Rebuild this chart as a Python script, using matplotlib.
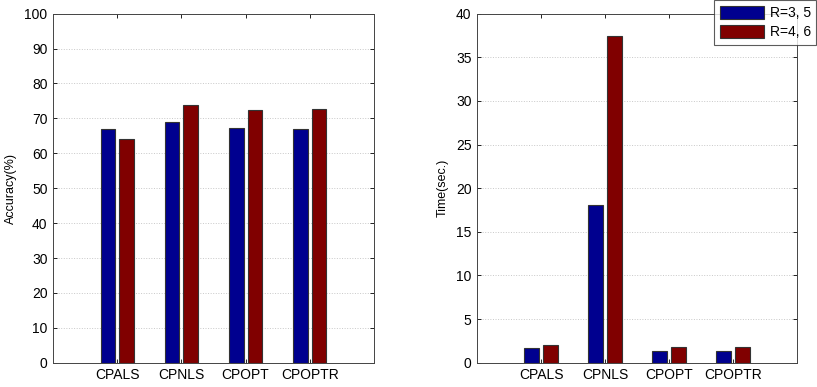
import numpy as np
import matplotlib
matplotlib.use("Agg")
import matplotlib.pyplot as plt

plt.rcParams['font.family'] = ['Liberation Sans', 'DejaVu Sans']

methods = ['CPALS', 'CPNLS', 'CPOPT', 'CPOPTR']
series = ['R=3, 5', 'R=4, 6']
accuracy_r35 = [67.0, 68.9, 67.3, 67.0]
accuracy_r46 = [64.2, 73.8, 72.5, 72.8]
time_r35 = [1.72, 18.1, 1.34, 1.34]
time_r46 = [1.99, 37.5, 1.76, 1.76]

colors = ['#00008f', '#800000']


def draw_bars(ax, a, b, ylim, yticks, ylabel):
    x = np.arange(1, len(methods) + 1)
    w = 0.23
    ax.bar(x - 0.145, a, w, color=colors[0], edgecolor='#333333',
           linewidth=0.8, label=series[0], zorder=3)
    ax.bar(x + 0.145, b, w, color=colors[1], edgecolor='#333333',
           linewidth=0.8, label=series[1], zorder=3)
    ax.set_xlim(0, 5)
    ax.set_ylim(*ylim)
    ax.set_xticks(x)
    ax.set_xticklabels(methods)
    ax.set_yticks(yticks)
    ax.set_ylabel(ylabel, fontsize=9, labelpad=5)
    ax.tick_params(direction='in', top=True, right=True, length=3,
                   labelsize=10, width=0.6, pad=4)
    ax.grid(axis='y', linestyle=':', color='#c8c8c8', linewidth=0.7,
            zorder=0)
    for s in ax.spines.values():
        s.set_linewidth(0.7)
        s.set_color('#444444')


fig = plt.figure(figsize=(8.17, 3.87), dpi=100)
ax1 = fig.add_axes([53 / 817, 1 - 362.7 / 387, 321 / 817, 349 / 387])
ax2 = fig.add_axes([477 / 817, 1 - 362.7 / 387, 320 / 817, 349 / 387])

draw_bars(ax1, accuracy_r35, accuracy_r46, (0, 100), range(0, 101, 10),
          'Accuracy(%)')
draw_bars(ax2, time_r35, time_r46, (0, 40), range(0, 41, 5),
          'Time(sec.)')

leg = ax2.legend(loc='upper left', bbox_to_anchor=(714 / 817, 1.0),
                 bbox_transform=fig.transFigure,
                 fontsize=10, frameon=True, fancybox=False,
                 handlelength=3.2, handleheight=1.1, borderpad=0.4,
                 labelspacing=0.35, handletextpad=0.4, borderaxespad=0)
leg.get_frame().set_edgecolor('#333333')
leg.get_frame().set_linewidth(0.8)

fig.savefig('out.png', dpi=100)
